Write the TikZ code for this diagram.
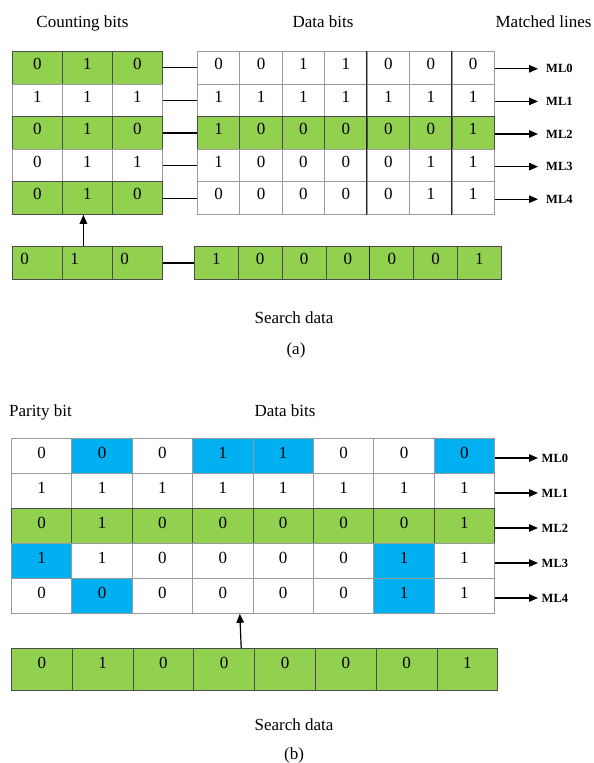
\documentclass[tikz,border=0pt]{standalone}
\usepackage{fontspec}
\setmainfont{Liberation Serif}
\usetikzlibrary{arrows.meta}
\definecolor{cellgreen}{HTML}{92D050}
\definecolor{cellblue}{HTML}{00B0F0}
\definecolor{gridgray}{HTML}{9A9A9A}
\newcommand\digitfont{\fontsize{17}{20}\selectfont}
\newcommand\mlfont{\fontsize{12.5}{14}\selectfont\bfseries}
\tikzset{
  cell/.style={draw=gridgray, line width=0.8pt, inner sep=0pt, anchor=north west,
    font=\digitfont, text height=11.5pt},
  cw/.style={fill=white},
  cg/.style={fill=cellgreen, draw=black!70},
  cb/.style={fill=cellblue},
  titletext/.style={font=\digitfont, inner sep=0pt, anchor=base},
  mlabel/.style={font=\mlfont, anchor=west, inner sep=0pt},
  conn/.style={line width=1.2pt},
  arr/.style={line width=1.2pt, -{Triangle[length=9pt,width=7.5pt]}},
  darkline/.style={draw=black!85, line width=0.9pt},
}
\begin{document}
\begin{tikzpicture}[x=1pt,y=-1pt]
\useasboundingbox (0,0) rectangle (594,763);
\fill[white] (0,0) rectangle (594,763);

% ---------------- (a) ----------------
\node[titletext] (tcount) at (82.5,27.5) {Counting bits};
\node[titletext] (tdataa) at (323,27.5) {Data bits};
\node[titletext] (tmatch) at (543.5,27.5) {Matched lines};

% counting bits table
\def\rowsCA{0/cg/{0,1,0},1/cw/{1,1,1},2/cg/{0,1,0},3/cw/{0,1,1},4/cg/{0,1,0}}
\foreach \r/\s/\vals in \rowsCA {
  \foreach \v [count=\c from 0] in \vals {
    \node[cell,\s,minimum width=50pt,minimum height=32.6pt,text depth=8pt]
      (ac-\r-\c) at ({12+50*\c},{51+32.6*\r}) {\v};
  }
}
% data bits table
\def\rowsDA{0/cw/{0,0,1,1,0,0,0},1/cw/{1,1,1,1,1,1,1},2/cg/{1,0,0,0,0,0,1},3/cw/{1,0,0,0,0,1,1},4/cw/{0,0,0,0,0,1,1}}
\foreach \r/\s/\vals in \rowsDA {
  \foreach \v [count=\c from 0] in \vals {
    \node[cell,\s,minimum width=42.43pt,minimum height=32.6pt,text depth=8pt]
      (ad-\r-\c) at ({197+42.43*\c},{51+32.6*\r}) {\v};
  }
}
\draw[darkline] (ad-0-4.north west) -- (ad-4-4.south west);
\draw[darkline] (ad-0-6.north west) -- (ad-4-6.south west);

% connectors and match lines
\foreach \r in {0,...,4} {
  \draw[conn] (ac-\r-2.east) -- (ad-\r-0.west);
  \node[mlabel] (mla-\r) at (546,{51+32.6*\r+16.3+1.5}) {ML\r};
  \draw[arr, shorten >=8pt] (ad-\r-6.east |- mla-\r.west) -- (mla-\r.west);
}

% search data (a)
\foreach \v [count=\c from 0] in {0,1,0} {
  \node[cell,cg,minimum width=50pt,minimum height=33pt,text depth=9pt]
    (asc-\c) at ({12+50*\c},246) {\makebox[34pt][l]{\v}};
}
\foreach \v [count=\c from 0] in {1,0,0,0,0,0,1} {
  \node[cell,cg,minimum width=43.86pt,minimum height=33pt,text depth=9pt]
    (asd-\c) at ({194+43.86*\c},246) {\v};
}
\draw[darkline] (asd-4.north west) -- (asd-4.south west);
\draw[conn] (asc-2.east) -- (asd-0.west);
\draw[arr] ([xshift=-4pt]asc-1.north) -- ([xshift=-4pt]ac-4-1.south);

\node[titletext] (tsearcha) at (294,323) {Search data};
\node[titletext] (capa) at (296,354) {(a)};

% ---------------- (b) ----------------
\node[titletext] (tparity) at (40.5,416) {Parity bit};
\node[titletext] (tdatab) at (285,416) {Data bits};

\def\rowsB{0/{cw/0,cb/0,cw/0,cb/1,cb/1,cw/0,cw/0,cb/0},1/{cw/1,cw/1,cw/1,cw/1,cw/1,cw/1,cw/1,cw/1},2/{cg/0,cg/1,cg/0,cg/0,cg/0,cg/0,cg/0,cg/1},3/{cb/1,cw/1,cw/0,cw/0,cw/0,cw/0,cb/1,cw/1},4/{cw/0,cb/0,cw/0,cw/0,cw/0,cw/0,cb/1,cw/1}}
\foreach \r/\vals in \rowsB {
  \foreach \s/\v [count=\c from 0] in \vals {
    \node[cell,\s,minimum width=60.4pt,minimum height=35pt,text depth=7pt]
      (bt-\r-\c) at ({11+60.4*\c},{438+35*\r}) {\v};
  }
}
\foreach \r in {0,...,4} {
  \node[mlabel] (mlb-\r) at (541.5,{438+35*\r+17.5+2.5}) {ML\r};
  \draw[arr, shorten >=3.5pt] (bt-\r-7.east |- mlb-\r.west) -- (mlb-\r.west);
}

% search data (b)
\foreach \v [count=\c from 0] in {0,1,0,0,0,0,0,1} {
  \node[cell,cg,minimum width=60.8pt,minimum height=42pt,text depth=14pt]
    (bs-\c) at ({11+60.8*\c},648) {\v};
}
\draw[arr] ([xshift=17pt]bs-3.north) -- ([xshift=17pt]bt-4-3.south);

\node[titletext] (tsearchb) at (294,730) {Search data};
\node[titletext] (capb) at (294,759) {(b)};
\end{tikzpicture}
\end{document}
